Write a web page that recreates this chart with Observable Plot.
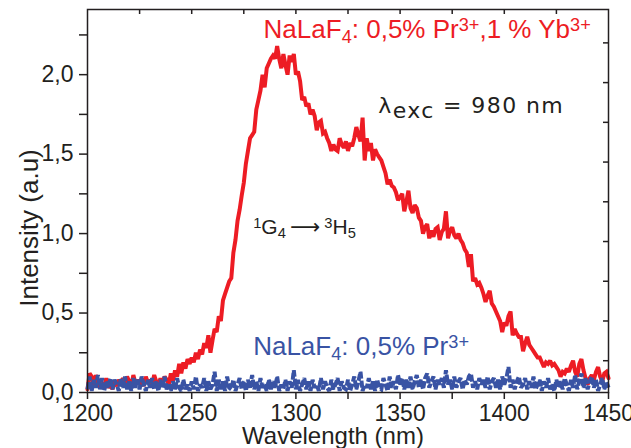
<!DOCTYPE html>
<html>
<head>
<meta charset="utf-8">
<script src="https://cdn.jsdelivr.net/npm/d3@7"></script>
<script src="https://cdn.jsdelivr.net/npm/@observablehq/plot@0.6"></script>
<style>
  html, body { margin: 0; padding: 0; background: #fff; }
  #chart svg { display: block; }
</style>
</head>
<body>
<div id="chart"></div>
<script>
// Wavelength grid (nm), one point per nm
const wlStart = 1200;
const wlEnd = 1450;

// NaLaF4: 0,5% Pr3+, 1% Yb3+ (red)
const redValues = [
  0.02,0.12,0.10,0.04,0.11,0.05,0.03,0.06,0.04,0.09,
  0.03,0.05,0.02,0.07,0.04,0.08,0.06,0.09,0.05,0.10,
  0.07,0.04,0.11,0.06,0.08,0.05,0.09,0.04,0.10,0.06,
  0.08,0.05,0.11,0.07,0.04,0.09,0.06,0.10,0.08,0.05,
  0.12,0.07,0.14,0.10,0.18,0.12,0.19,0.15,0.21,0.18,
  0.22,0.19,0.25,0.21,0.27,0.24,0.31,0.28,0.36,0.25,
  0.33,0.40,0.38,0.48,0.45,0.58,0.62,0.66,0.70,0.72,
  0.88,0.96,1.08,1.15,1.24,1.32,1.44,1.52,1.60,1.62,
  1.64,1.78,1.84,1.90,2.00,1.92,2.04,2.07,2.10,2.12,
  2.10,2.18,2.10,2.04,2.13,2.06,2.00,2.12,2.08,2.13,
  2.00,2.02,1.96,1.84,1.86,1.80,1.82,1.75,1.78,1.74,
  1.65,1.70,1.71,1.63,1.64,1.60,1.57,1.52,1.56,1.53,
  1.52,1.60,1.56,1.54,1.58,1.52,1.57,1.55,1.60,1.67,
  1.62,1.58,1.73,1.46,1.60,1.52,1.57,1.46,1.53,1.50,
  1.48,1.46,1.42,1.38,1.31,1.34,1.30,1.29,1.26,1.21,
  1.23,1.25,1.14,1.20,1.27,1.16,1.13,1.18,1.16,1.10,
  1.08,1.00,1.04,1.06,0.97,1.02,0.98,1.03,1.04,0.96,
  1.01,1.03,1.14,0.97,1.02,1.04,0.99,0.97,1.00,0.96,
  0.94,0.90,0.88,0.79,0.87,0.70,0.72,0.68,0.69,0.66,
  0.62,0.57,0.61,0.64,0.56,0.54,0.51,0.48,0.45,0.38,
  0.44,0.42,0.48,0.51,0.36,0.40,0.37,0.35,0.35,0.26,
  0.31,0.35,0.30,0.28,0.26,0.24,0.22,0.22,0.19,0.16,
  0.19,0.18,0.20,0.17,0.18,0.16,0.14,0.10,0.13,0.12,
  0.15,0.13,0.17,0.20,0.13,0.10,0.18,0.21,0.14,0.09,
  0.05,0.09,0.11,0.08,0.13,0.16,0.10,0.07,0.12,0.13,
  0.09
];

// NaLaF4: 0,5% Pr3+ (blue)
const blueValues = [
  0.02,0.10,0.01,0.08,0.03,0.11,0.02,0.09,0.01,0.07,
  0.03,0.09,0.02,0.08,0.05,0.01,0.09,0.03,0.10,0.02,
  0.07,0.01,0.09,0.03,0.08,0.02,0.10,0.05,0.01,0.08,
  0.03,0.09,0.02,0.07,0.01,0.08,0.03,0.10,0.02,0.05,
  0.01,0.07,0.02,0.09,0.03,0.01,0.08,0.02,0.05,0.01,
  0.07,0.02,0.10,0.01,0.05,0.03,0.09,0.01,0.07,0.02,
  0.05,0.13,0.01,0.08,0.02,0.07,0.01,0.10,0.03,0.02,
  0.08,0.01,0.05,0.09,0.02,0.07,0.01,0.08,0.03,0.11,
  0.02,0.07,0.01,0.09,0.03,0.05,0.01,0.08,0.02,0.07,
  0.03,0.10,0.01,0.05,0.02,0.08,0.01,0.07,0.03,0.14,
  0.02,0.08,0.01,0.05,0.09,0.02,0.07,0.01,0.08,0.03,
  0.05,0.01,0.09,0.02,0.07,0.03,0.01,0.08,0.02,0.05,
  0.09,0.01,0.07,0.03,0.02,0.08,0.01,0.05,0.10,0.02,
  0.07,0.13,0.01,0.05,0.03,0.09,0.02,0.07,0.01,0.08,
  0.03,0.02,0.09,0.05,0.01,0.10,0.03,0.07,0.02,0.11,
  0.05,0.09,0.02,0.08,0.03,0.10,0.02,0.07,0.11,0.03,
  0.08,0.02,0.09,0.12,0.03,0.07,0.10,0.02,0.08,0.05,
  0.09,0.03,0.14,0.05,0.08,0.02,0.10,0.03,0.07,0.09,
  0.02,0.08,0.05,0.10,0.12,0.03,0.07,0.02,0.09,0.05,
  0.08,0.03,0.10,0.02,0.07,0.09,0.03,0.08,0.02,0.10,
  0.05,0.09,0.16,0.03,0.08,0.02,0.07,0.10,0.03,0.05,
  0.09,0.02,0.07,0.03,0.10,0.02,0.05,0.08,0.01,0.07,
  0.03,0.09,0.02,0.05,0.01,0.08,0.03,0.07,0.02,0.09,
  0.05,0.01,0.08,0.03,0.11,0.02,0.07,0.12,0.03,0.09,
  0.02,0.07,0.10,0.03,0.08,0.01,0.05,0.09,0.02,0.07,
  0.03
];

// Tick positions and labels
const xTicks = [1200, 1225, 1250, 1275, 1300, 1325, 1350, 1375, 1400, 1425, 1450];
const xLabelled = [1200, 1250, 1300, 1350, 1400, 1450];
const yTicks = [0, 0.25, 0.5, 0.75, 1.0, 1.25, 1.5, 1.75, 2.0, 2.25];
const yLabelled = [0, 0.5, 1.0, 1.5, 2.0];
const rightTicks = [0.2, 0.45, 0.7, 0.95, 1.2, 1.45, 1.7, 1.95, 2.2];
const topTicks = [1225, 1250, 1275, 1300, 1325, 1350, 1375, 1400, 1425];

// Axis titles
const xTitle = "Wavelength (nm)";
const yTitle = "Intensity (a.u)";

// Annotations (positions in data units)
const annotations = [
  {key: "red", x: 1284.5, y: 2.285, color: "#ed1c24", size: 26, font: "Liberation Sans, Arial, sans-serif", ls: 0},
  {key: "exc", x: 1339.5, y: 1.80, color: "#231f20", size: 22, font: "DejaVu Sans, sans-serif", ls: 1.4},
  {key: "trans", x: 1279.5, y: 1.04, color: "#231f20", size: 21, font: "Liberation Sans, Arial, sans-serif", ls: 0},
  {key: "blue", x: 1279.5, y: 0.29, color: "#3953a4", size: 26, font: "Liberation Sans, Arial, sans-serif", ls: 0}
];

const red = redValues.map((v, i) => ({wl: wlStart + i, v}));
const blue = blueValues.map((v, i) => ({wl: wlStart + i, v}));

const W = 631, H = 448;
const mL = 87, mR = 23, mT = 9, mB = 56;
const innerW = W - mL - mR, innerH = H - mT - mB;
const ink = "#231f20";
const fmt = d => d.toFixed(1).replace(".", ",");

const plot = Plot.plot({
  width: W,
  height: H,
  marginLeft: mL,
  marginRight: mR,
  marginTop: mT,
  marginBottom: mB,
  style: {fontFamily: "Liberation Sans, Arial, sans-serif", color: ink, background: "#fff"},
  x: {domain: [wlStart, wlEnd]},
  y: {domain: [0, 2.41]},
  marks: [
    Plot.line(red, {x: "wl", y: "v", stroke: "#ed1c24", strokeWidth: 4, strokeLinejoin: "miter", strokeMiterlimit: 2}),
    Plot.line(blue, {x: "wl", y: "v", stroke: "#3953a4", strokeWidth: 4, strokeLinejoin: "miter", strokeMiterlimit: 2, strokeLinecap: "butt", strokeDasharray: "7,2"}),
    Plot.frame({stroke: ink, strokeWidth: 1.5}),
    Plot.axisX({
      ticks: xTicks, tickSize: 7, tickPadding: 5, fontSize: 23,
      tickFormat: d => xLabelled.includes(d) ? String(d) : "",
      label: null, stroke: ink, strokeWidth: 1.5
    }),
    Plot.axisY({
      ticks: yTicks, tickSize: 8, tickPadding: 6, fontSize: 23,
      tickFormat: d => yLabelled.includes(d) ? fmt(d) : "",
      label: null, stroke: ink, strokeWidth: 1.5
    }),
    Plot.text([xTitle], {frameAnchor: "bottom", text: d => d, fontSize: 24, fill: ink, textAnchor: "middle", lineAnchor: "middle", dx: -15, dy: 44}),
    Plot.text([yTitle], {frameAnchor: "left", text: d => d, fontSize: 26, fill: ink, rotate: -90, textAnchor: "middle", lineAnchor: "middle", dx: -58, dy: 27}),
    Plot.tickX(topTicks, {x: d => d, stroke: ink, strokeWidth: 1.5, insetBottom: innerH - 5}),
    Plot.tickY(rightTicks, {y: d => d, stroke: ink, strokeWidth: 1.5, insetLeft: innerW - 5}),
    Plot.text(annotations, {
      x: "x", y: "y", text: "key", fill: "color", fontSize: "size",
      textAnchor: "start", className: "ann"
    })
  ]
});

// Rich text (sub/superscripts) for the annotations
const rich = {
  red: [["NaLaF"], ["4", "sub"], [": 0,5% Pr"], ["3+", "sup"], [",1 % Yb"], ["3+", "sup"]],
  exc: [["λ"], ["exc", "low"], [" = 980 nm"]],
  trans: [["1", "sup"], ["G"], ["4", "sub"], ["\u2009⟶\u2009", "arrow"], ["3", "sup"], ["H"], ["5", "sub"]],
  blue: [["NaLaF"], ["4", "sub"], [": 0,5% Pr"], ["3+", "sup"]]
};
const annByKey = Object.fromEntries(annotations.map(a => [a.key, a]));
d3.select(plot).selectAll(".ann text").each(function() {
  const el = d3.select(this);
  const key = el.text();
  const a = annByKey[key];
  el.text("").attr("font-family", a.font).attr("letter-spacing", a.ls);
  for (const [t, kind] of rich[key]) {
    const ts = el.append("tspan").text(t);
    if (kind === "sub") ts.attr("baseline-shift", "-25%").attr("font-size", "70%");
    if (kind === "sup") ts.attr("baseline-shift", "40%").attr("font-size", "70%");
    if (kind === "low") ts.attr("baseline-shift", "-22%");
    if (kind === "arrow") ts.attr("font-family", "DejaVu Sans");
  }
});

document.getElementById("chart").appendChild(plot);
</script>
</body>
</html>
